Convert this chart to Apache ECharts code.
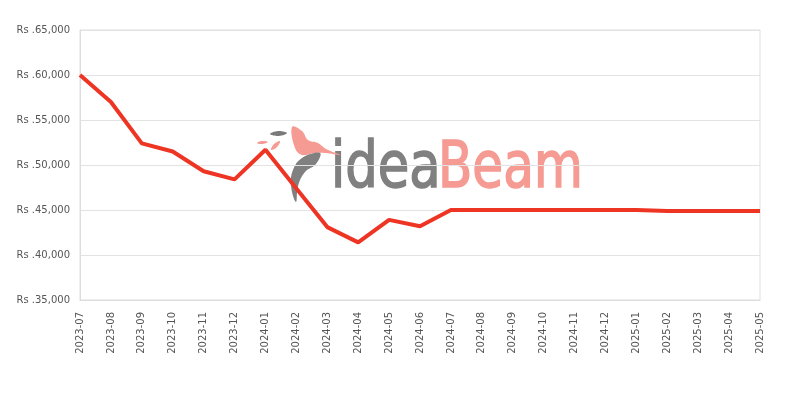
<!DOCTYPE html>
<html>
<head>
<meta charset="utf-8">
<script src="https://cdn.jsdelivr.net/npm/echarts@6/dist/echarts.min.js"></script>
<style>html,body{margin:0;padding:0;background:#fff}#c{width:800px;height:400px}</style>
</head>
<body>
<div id="c"></div>
<script>
const months = ['2023-07','2023-08','2023-09','2023-10','2023-11','2023-12','2024-01','2024-02','2024-03','2024-04','2024-05','2024-06','2024-07','2024-08','2024-09','2024-10','2024-11','2024-12','2025-01','2025-02','2025-03','2025-04','2025-05'];
const prices = [60000,57000,52400,51500,49300,48400,51700,47400,43100,41400,43900,43200,45000,45000,45000,45000,45000,45000,45000,44900,44900,44900,44900];
const yMin = 35000, yMax = 65000, yStep = 5000;

const chart = echarts.init(document.getElementById('c'), null, {renderer:'canvas'});
const poly = (pts, fill) => ({type:'polygon', z: 0, silent: true, shape:{points: pts, smooth: 0.4}, style:{fill: fill}});
chart.setOption({
  animation: false,
  grid: {left: 80, right: 40, top: 30, bottom: 100, show: true, borderColor: '#dddddd', borderWidth: 1},
  graphic: [
    {type:'text', z: 0, silent: true, x: 331, y: 138, scaleX: 0.89, style:{text:'idea', fill:'#808080', font:'64px "DejaVu Sans Condensed"', stroke:'#808080', lineWidth: 1.5}},
    {type:'text', z: 0, silent: true, x: 438, y: 138, scaleX: 0.87, style:{text:'Beam', fill:'#f59b93', font:'64px "DejaVu Sans Condensed"', stroke:'#f59b93', lineWidth: 1.5}},
    poly([[270,134],[278,131],[287,133],[279,136]], '#7a7a7a'),
    poly([[257,143],[262,141],[268,142],[262,144]], '#f59b93'),
    poly([[271,150],[274,144],[280,141],[277,147]], '#f59b93'),
    poly([[292,127],[302,131],[308,140],[318,143],[326,149],[340,155],[326,153],[314,153],[302,155],[295,148]], '#f59b93'),
    poly([[320,153],[316,164],[305,172],[298,186],[296,202],[291,186],[293,170],[302,158]], '#808080')
  ],
  xAxis: {
    type: 'category', data: months, boundaryGap: false,
    axisLine: {show: true, lineStyle: {color: '#dddddd'}},
    axisTick: {show: false},
    axisLabel: {rotate: 90, color: '#555', fontSize: 10, fontFamily: 'DejaVu Sans', interval: 0, margin: 12},
    splitLine: {show: false}
  },
  yAxis: {
    type: 'value', min: yMin, max: yMax, interval: yStep,
    axisLine: {show: true, lineStyle: {color: '#dddddd'}},
    axisTick: {show: false},
    axisLabel: {color: '#555', fontSize: 10, fontFamily: 'DejaVu Sans', margin: 10,
      formatter: v => 'Rs .' + v.toLocaleString('en-US')},
    splitLine: {lineStyle: {color: '#e3e3e3'}}
  },
  series: [{
    type: 'line', data: prices, showSymbol: false, symbol: 'none', z: 5,
    lineStyle: {color: '#ee3524', width: 4}
  }]
});
</script>
</body>
</html>
